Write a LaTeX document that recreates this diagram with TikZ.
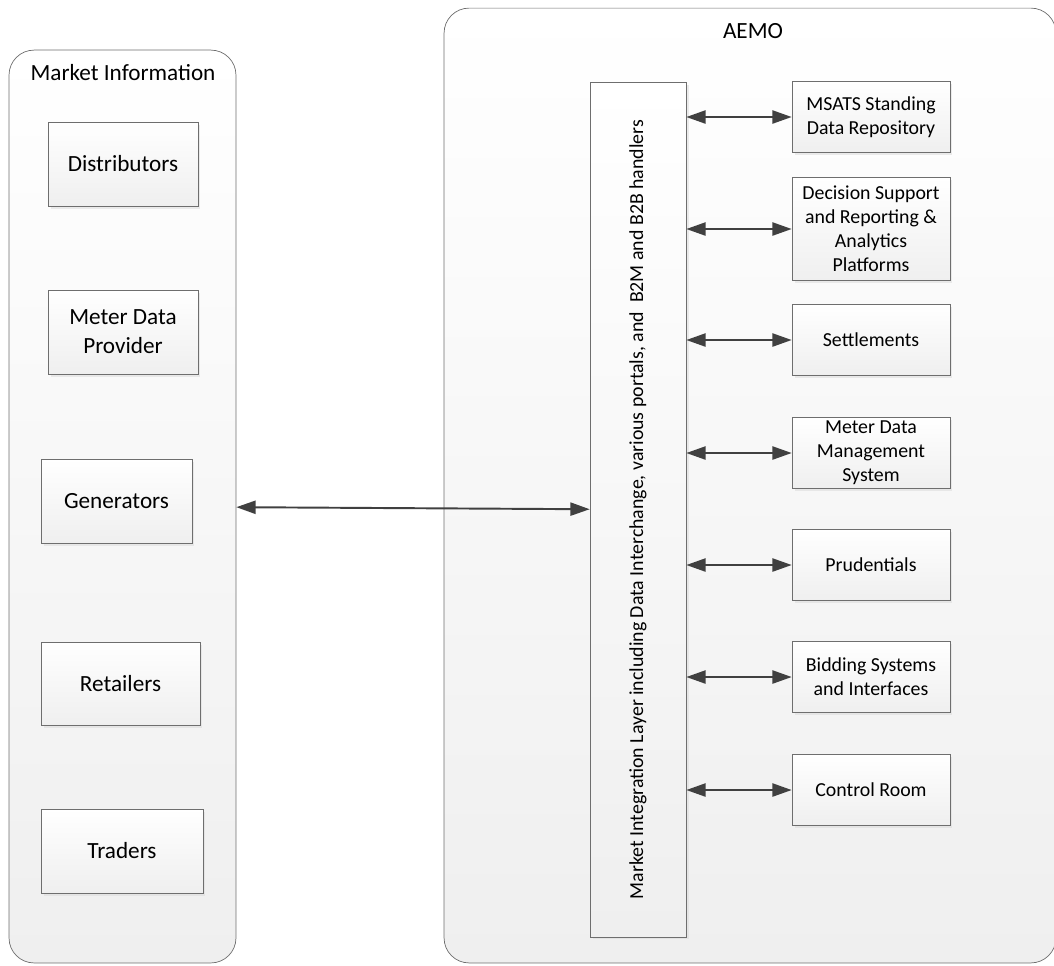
\documentclass[tikz,border=0pt]{standalone}
\usepackage{fontspec}
\setmainfont{Carlito}
\usetikzlibrary{arrows.meta}
\usetikzlibrary{positioning,shadows}

\definecolor{edgegray}{HTML}{6E6E6E}
\definecolor{arrowgray}{HTML}{404040}
\definecolor{fillbot}{HTML}{EFEFEF}

\tikzset{
  group/.style={draw=edgegray, rounded corners=0.5cm, top color=white, bottom color=fillbot},
  sysbox/.style={draw=edgegray, top color=white, bottom color=fillbot, align=center, inner sep=2pt,
    drop shadow={shadow xshift=0.05cm, shadow yshift=-0.05cm, fill=black!15}},
  party/.style={sysbox, minimum width=3cm, minimum height=1.68cm, font=\fontsize{13.2}{16.5}\selectfont},
  platform/.style={sysbox, minimum width=3.16cm, minimum height=1.42cm, font=\fontsize{11.3}{13.6}\selectfont},
  link/.style={draw=arrowgray, line width=1.1pt,
    {Triangle[length=11pt,width=7.5pt]}-{Triangle[length=11pt,width=7.5pt]}},
}

\begin{document}
\begin{tikzpicture}[x=0.02cm, y=-0.02cm]
\useasboundingbox (0,0) rectangle (1054,965);

% the two groups
\node[group, minimum width=4.54cm, minimum height=18.26cm] (info) at (122.5,506.5) {};
\node[group, minimum width=12.24cm, minimum height=19.1cm] (aemo) at (750,485.5) {};
\node[font=\fontsize{13.2}{16}\selectfont] (infotitle) at (123,73) {Market Information};
\node[font=\fontsize{13.2}{16}\selectfont] (aemotitle) at (753,31) {AEMO};

% market participants
\node[party] (dist) at (123,164) {Distributors};
\node[party] (mdp) at (123,332) {Meter Data\\Provider};
\node[party, minimum width=3.02cm] (gen) at (116.5,501) {Generators};
\node[party, minimum width=3.18cm, minimum height=1.66cm] (ret) at (120.5,683.5) {Retailers};
\node[party, minimum width=3.24cm] (trad) at (122,851) {Traders};

% integration layer
\node[sysbox, minimum width=1.92cm, minimum height=17.1cm] (mil) at (638,509.5) {};
\node[rotate=90, font=\fontsize{11.3}{13.6}\selectfont] (miltext) at (mil) {Market Integration Layer including Data Interchange, various portals, and \ B2M and B2B handlers};

% AEMO systems
\node[platform] (msats) at (871,117) {MSATS Standing\\Data Repository};
\node[platform, minimum height=2.06cm] (dsr) at (871,229) {Decision Support\\and Reporting \&\\Analytics\\Platforms};
\node[platform] (settle) at (871,340) {Settlements};
\node[platform] (mdms) at (871,453) {Meter Data\\Management\\System};
\node[platform] (prud) at (871,565) {Prudentials};
\node[platform] (bid) at (871,677) {Bidding Systems\\and Interfaces};
\node[platform] (ctrl) at (871,790) {Control Room};

% connectors
\draw[link] (info) -- (mil);
\draw[link] (mil.east |- msats) -- (msats.west);
\draw[link] (mil.east |- dsr) -- (dsr.west);
\draw[link] (mil.east |- settle) -- (settle.west);
\draw[link] (mil.east |- mdms) -- (mdms.west);
\draw[link] (mil.east |- prud) -- (prud.west);
\draw[link] (mil.east |- bid) -- (bid.west);
\draw[link] (mil.east |- ctrl) -- (ctrl.west);
\end{tikzpicture}
\end{document}
